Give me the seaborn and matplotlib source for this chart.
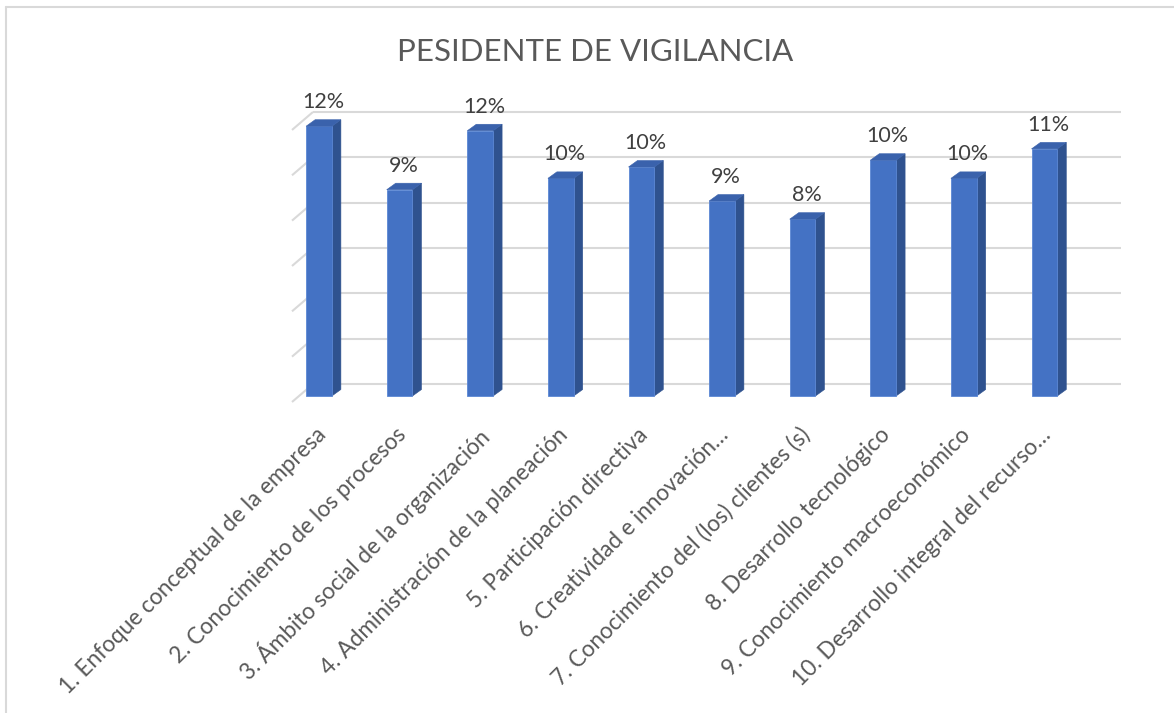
import numpy as np
import pandas as pd
import matplotlib
matplotlib.use("Agg")
import matplotlib.pyplot as plt
import seaborn as sns
from matplotlib.patches import Polygon
from matplotlib.lines import Line2D
import matplotlib.transforms as mtransforms

# ---------------- data ----------------
categories = [
    "1. Enfoque conceptual de la empresa",
    "2. Conocimiento de los procesos",
    "3. Ámbito social de la organización",
    "4. Administración de la planeación",
    "5. Participación directiva",
    "6. Creatividad e innovación…",
    "7. Conocimiento del (los) clientes (s)",
    "8. Desarrollo tecnológico",
    "9. Conocimiento macroeconómico",
    "10. Desarrollo integral del recurso…",
]
values = [0.119, 0.091, 0.117, 0.096, 0.101, 0.086, 0.078, 0.104, 0.096, 0.109]
y_ticks = [0.0, 0.02, 0.04, 0.06, 0.08, 0.10, 0.12]
title = "PESIDENTE DE VIGILANCIA"

# ---------------- layout ----------------
W, H, DPI = 1174, 713, 100
sns.set_theme(style="white")
plt.rcParams['font.family'] = ['Lato', 'DejaVu Sans']

fig = plt.figure(figsize=(W / DPI, H / DPI), dpi=DPI)
fig.patch.set_facecolor("white")

ax_left, ax_right, ax_top, ax_bottom = 285, 1130, 90, 410
ax = fig.add_axes([ax_left / W, 1 - ax_bottom / H,
                   (ax_right - ax_left) / W, (ax_bottom - ax_top) / H])

x0_px, step_px, base_px, unit_px = 319.0, 80.6, 396.0, 2267.0
xlim = ((ax_left - x0_px) / step_px, (ax_right - x0_px) / step_px)
ylim = (-(ax_bottom - base_px) / unit_px, (base_px - ax_top) / unit_px)

def dx(px):
    return px / step_px

def dy(px):
    return px / unit_px

df = pd.DataFrame({"cat": categories, "val": values})
sns.barplot(data=df, x="cat", y="val", ax=ax, color="#4472C4", width=0.32,
            saturation=1, edgecolor="#5B87D4", linewidth=0.6, zorder=3)
ax.set_xlim(*xlim)
ax.set_ylim(*ylim)
ax.set_facecolor("none")

# back-wall gridlines with side-wall segments
grid_c = "#D9D9D9"
wall_x0 = dx(313 - x0_px)
wall_x1 = dx(1121 - x0_px)
front_x = dx(292 - x0_px)
for t in y_ticks:
    yb = t + dy(12)
    yf = t - dy(6)
    ax.plot([wall_x0, wall_x1], [yb, yb], color=grid_c, lw=1.5, zorder=1,
            solid_capstyle="butt")
    ax.plot([front_x, wall_x0], [yf, yb], color=grid_c, lw=1.5, zorder=1,
            solid_capstyle="butt")

# 3D side and top faces
ddx, ddy = dx(9), dy(6.5)
for p in list(ax.patches):
    x, w, h = p.get_x(), p.get_width(), p.get_height()
    side = Polygon([(x + w, 0), (x + w + ddx, ddy), (x + w + ddx, h + ddy), (x + w, h)],
                   closed=True, facecolor="#2F528F", edgecolor="#2F528F", lw=0.4, zorder=2.9)
    top = Polygon([(x, h), (x + w, h), (x + w + ddx, h + ddy), (x + ddx, h + ddy)],
                  closed=True, facecolor="#3A62AC", edgecolor="#3A62AC", lw=0.4, zorder=3.1)
    ax.add_patch(side)
    ax.add_patch(top)

# value labels
for i, v in enumerate(values):
    ax.text(i + dx(4), v + dy(24), f"{round(v * 100)}%", ha="center", va="center",
            fontsize=15.5, color="#404040", zorder=5)

# axes cosmetics
for s in ax.spines.values():
    s.set_visible(False)
ax.set_yticks([])
ax.set_xlabel("")
ax.set_ylabel("")
ax.set_xticks(range(len(categories)))
ax.set_xticklabels(categories, rotation=45, ha="right", rotation_mode="anchor",
                   fontsize=16.3, color="#595959")
ax.tick_params(axis="x", length=0, pad=10)
offset = mtransforms.ScaledTranslation(-4 / DPI, 0, fig.dpi_scale_trans)
for lab in ax.get_xticklabels():
    lab.set_transform(lab.get_transform() + offset)

# title
fig.text(595 / W, 1 - 52 / H, title, ha="center", va="center", fontsize=22.5,
         color="#595959")

# chart-area border (left and top only visible)
fig.add_artist(Line2D([6 / W, 6 / W], [0, 1 - 7 / H], transform=fig.transFigure,
                      color="#D9D9D9", lw=1.5))
fig.add_artist(Line2D([6 / W, 1], [1 - 7 / H, 1 - 7 / H], transform=fig.transFigure,
                      color="#D9D9D9", lw=1.5))

fig.savefig("out.png", dpi=DPI, facecolor="white")
